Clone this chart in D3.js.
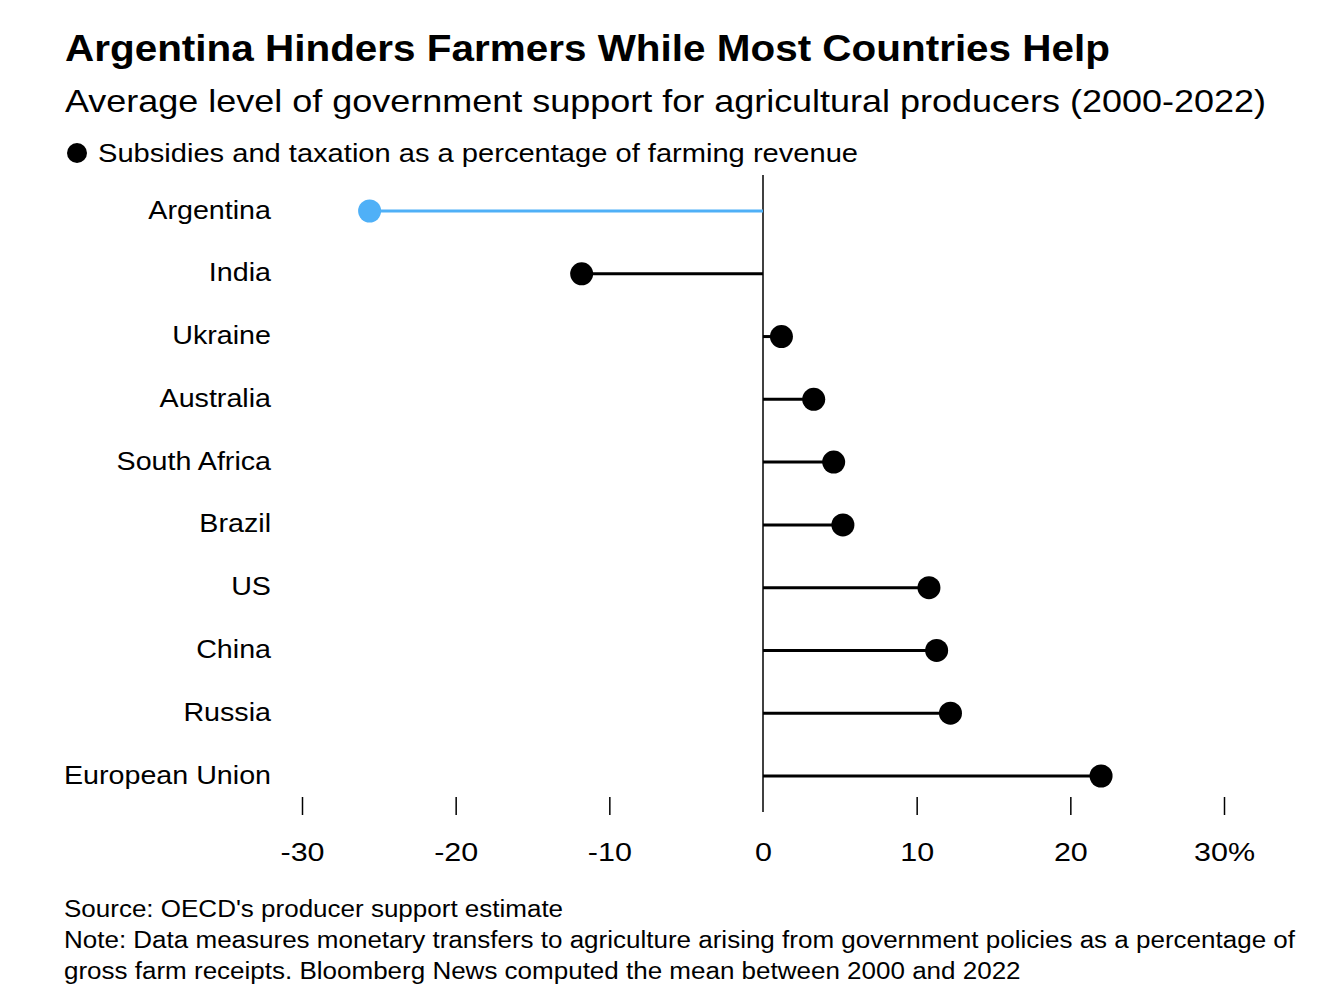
<!DOCTYPE html>
<html><head><meta charset="utf-8">
<script src="https://cdn.jsdelivr.net/npm/d3@7"></script>
<style>body{margin:0;background:#fff;} svg{display:block;font-family:"Liberation Sans",Arial,sans-serif;}</style>
</head><body>
<script>
const countries = ["Argentina","India","Ukraine","Australia","South Africa","Brazil","US","China","Russia","European Union"];
const values = [-25.6,-11.8,1.2,3.3,4.6,5.2,10.8,11.3,12.2,22.0];
const tickValues = [-30,-20,-10,0,10,20,30];
const tickLabels = ["-30","-20","-10","0","10","20","30%"];
const highlight = "Argentina";

const W=1324,H=1002;
const svg=d3.select("body").append("svg").attr("width",W).attr("height",H);

// widen text horizontally so a sample string reaches a target width
function stretch(sel, sampleWidth, targetWidth){
  const f = targetWidth/sampleWidth;
  sel.each(function(){
    const w=this.getComputedTextLength();
    d3.select(this).attr("textLength",w*f).attr("lengthAdjust","spacingAndGlyphs");
  });
}
function natural(sel){ return sel.node().getComputedTextLength(); }

const title=svg.append("text").attr("x",65).attr("y",61).attr("font-size",36).attr("font-weight","bold").attr("fill","#000").text("Argentina Hinders Farmers While Most Countries Help");
stretch(title,natural(title),1045);
const sub=svg.append("text").attr("x",65).attr("y",112).attr("font-size",30.5).attr("fill","#000").text("Average level of government support for agricultural producers (2000-2022)");
stretch(sub,natural(sub),1201);
svg.append("circle").attr("cx",77).attr("cy",153).attr("r",10).attr("fill","#000");
const leg=svg.append("text").attr("x",98).attr("y",162).attr("font-size",26).attr("fill","#000").text("Subsidies and taxation as a percentage of farming revenue");
stretch(leg,natural(leg),760);

const x=d3.scaleLinear().domain([-30,30]).range([302,1224]);
const y=d3.scalePoint().domain(countries).range([211,776]);

// zero line
svg.append("line").attr("x1",x(0)).attr("x2",x(0)).attr("y1",175).attr("y2",812).attr("stroke","#000").attr("stroke-width",1.5);

// axis
const axis=d3.axisBottom(x).tickValues(tickValues).tickFormat((d,i)=>tickLabels[i]).tickSize(18).tickPadding(28);
const ag=svg.append("g").attr("transform","translate(0,797)").call(axis);
ag.select(".domain").remove();
ag.selectAll(".tick line").attr("stroke","#000").attr("stroke-width",1.5);
const tt=ag.selectAll(".tick text").attr("font-size",25.5).attr("fill","#000").attr("font-family","Liberation Sans, Arial, sans-serif");
ag.selectAll(".tick").filter(d=>d===0).select("line").remove();
{ const s=tt.filter((d,i)=>i===6); stretch(tt,natural(s),61); }

const data=countries.map((c,i)=>({c,v:values[i]}));
const g=svg.append("g");
g.selectAll("line.stem").data(data).join("line").attr("class","stem")
 .attr("x1",x(0)).attr("x2",d=>x(d.v)).attr("y1",d=>y(d.c)).attr("y2",d=>y(d.c))
 .attr("stroke",d=>d.c===highlight?"#4fb0f7":"#000").attr("stroke-width",3);
g.selectAll("circle.dot").data(data).join("circle").attr("class","dot")
 .attr("cx",d=>x(d.v)).attr("cy",d=>y(d.c)).attr("r",11.5)
 .attr("fill",d=>d.c===highlight?"#4fb0f7":"#000");
const labs=g.selectAll("text.lab").data(data).join("text").attr("class","lab")
 .attr("x",271).attr("y",d=>y(d.c)+7.5).attr("text-anchor","end").attr("font-size",26.5).attr("fill","#000").text(d=>d.c);
stretch(labs,natural(labs.filter(d=>d.c==="European Union")),207);

const foot=["Source: OECD's producer support estimate","Note: Data measures monetary transfers to agriculture arising from government policies as a percentage of","gross farm receipts. Bloomberg News computed the mean between 2000 and 2022"];
const ft=svg.selectAll("text.foot").data(foot).join("text").attr("class","foot").attr("x",64).attr("y",(d,i)=>917+i*31).attr("font-size",23.5).attr("fill","#000").text(d=>d);
stretch(ft,natural(ft.filter((d,i)=>i===1)),1231);
</script>
</body></html>
